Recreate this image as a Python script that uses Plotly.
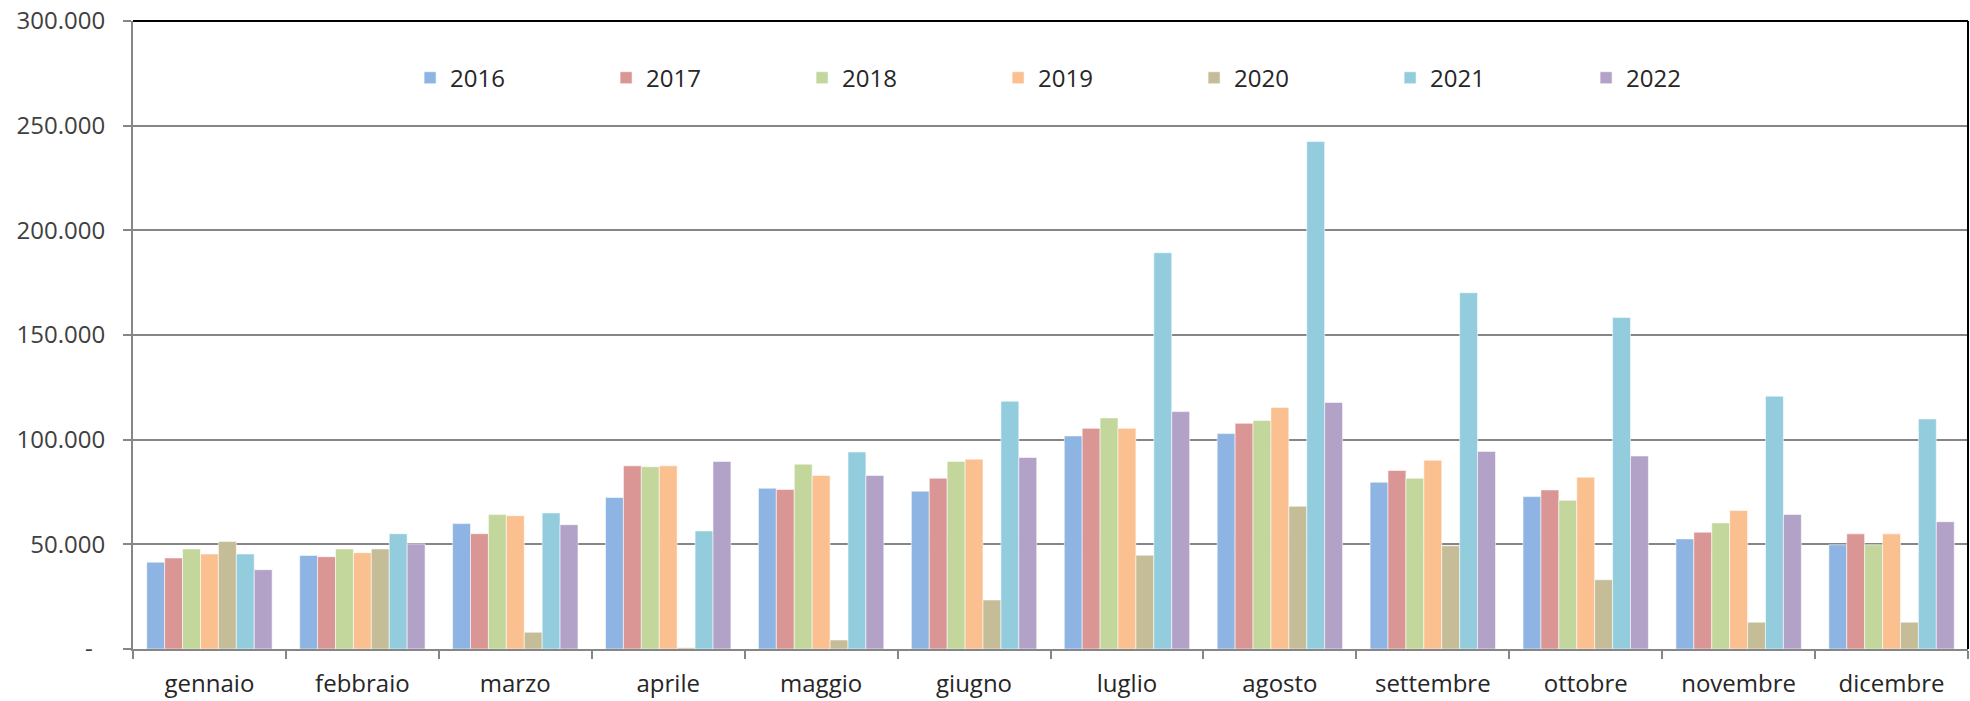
import plotly.graph_objects as go

months = ["gennaio", "febbraio", "marzo", "aprile", "maggio", "giugno",
          "luglio", "agosto", "settembre", "ottobre", "novembre", "dicembre"]

y2016 = [41500, 44700, 59900, 72400, 76800, 75400, 101800, 102900, 79700, 72800, 52600, 49800]
y2017 = [43500, 44100, 55100, 87500, 76200, 81600, 105400, 107800, 85300, 76000, 55800, 55000]
y2018 = [47800, 47800, 64200, 87100, 88300, 89600, 110400, 109100, 81600, 71000, 60200, 49800]
y2019 = [45400, 46000, 63700, 87500, 82900, 90700, 105400, 115400, 90200, 82100, 66200, 55000]
y2020 = [51400, 47800, 8000, 600, 4300, 23400, 44800, 68200, 49300, 33100, 12800, 12800]
y2021 = [45400, 55100, 65000, 56400, 94100, 118400, 189300, 242400, 170200, 158400, 120800, 109900]
y2022 = [37900, 50200, 59400, 89600, 82900, 91500, 113400, 117800, 94400, 92200, 64300, 60800]

years = ["2016", "2017", "2018", "2019", "2020", "2021", "2022"]
series = [y2016, y2017, y2018, y2019, y2020, y2021, y2022]
colors = ["#8EB4E3", "#D99694", "#C3D69B", "#FAC090", "#C4BD97", "#93CDDD", "#B3A2C7"]

ytickvals = [0, 50000, 100000, 150000, 200000, 250000, 300000]
yticktext = ["-\u00a0\u00a0", "50.000", "100.000", "150.000", "200.000", "250.000", "300.000"]

fig = go.Figure()
for name, vals, col in zip(years, series, colors):
    fig.add_trace(go.Bar(
        x=months, y=vals, name=name,
        marker=dict(color=col, line=dict(color="rgba(255,255,255,0.7)", width=0.8)),
    ))

grid = "#868686"
fig.update_layout(
    width=1970, height=701,
    margin=dict(l=133, r=2, t=21, b=52),
    paper_bgcolor="white", plot_bgcolor="white",
    barmode="group", bargap=0.18, bargroupgap=0,
    font=dict(family="Open Sans", size=24, color="#262626"),
    legend=dict(
        orientation="h", x=0.151, xanchor="left", y=0.909, yanchor="middle",
        entrywidth=151, entrywidthmode="pixels",
        font=dict(family="Open Sans", size=24, color="#262626"),
        bgcolor="rgba(0,0,0,0)", traceorder="normal",
    ),
    xaxis=dict(
        type="category", tickson="boundaries", ticks="outside", ticklen=8,
        tickwidth=2, tickcolor=grid, showline=True, linecolor=grid, linewidth=2,
        showgrid=False, tickfont=dict(size=24, color="#262626"),
        ticklabelstandoff=12,
    ),
    yaxis=dict(
        range=[0, 300000], tickvals=ytickvals, ticktext=yticktext,
        ticks="outside", ticklen=8, tickwidth=2, tickcolor=grid,
        showline=True, linecolor=grid, linewidth=2,
        showgrid=True, gridcolor=grid, gridwidth=1.8, zeroline=False,
        tickfont=dict(size=24, color="#404040"), ticklabelstandoff=13,
    ),
    shapes=[
        dict(type="line", xref="paper", yref="paper", x0=0, x1=1, y0=1, y1=1,
             line=dict(color="black", width=2)),
        dict(type="line", xref="paper", yref="paper", x0=1, x1=1, y0=0, y1=1,
             line=dict(color="black", width=2)),
    ],
)

fig.write_html("out.html", config={"displayModeBar": False},
               post_script="document.body.style.margin='0';document.body.style.overflow='hidden';")
